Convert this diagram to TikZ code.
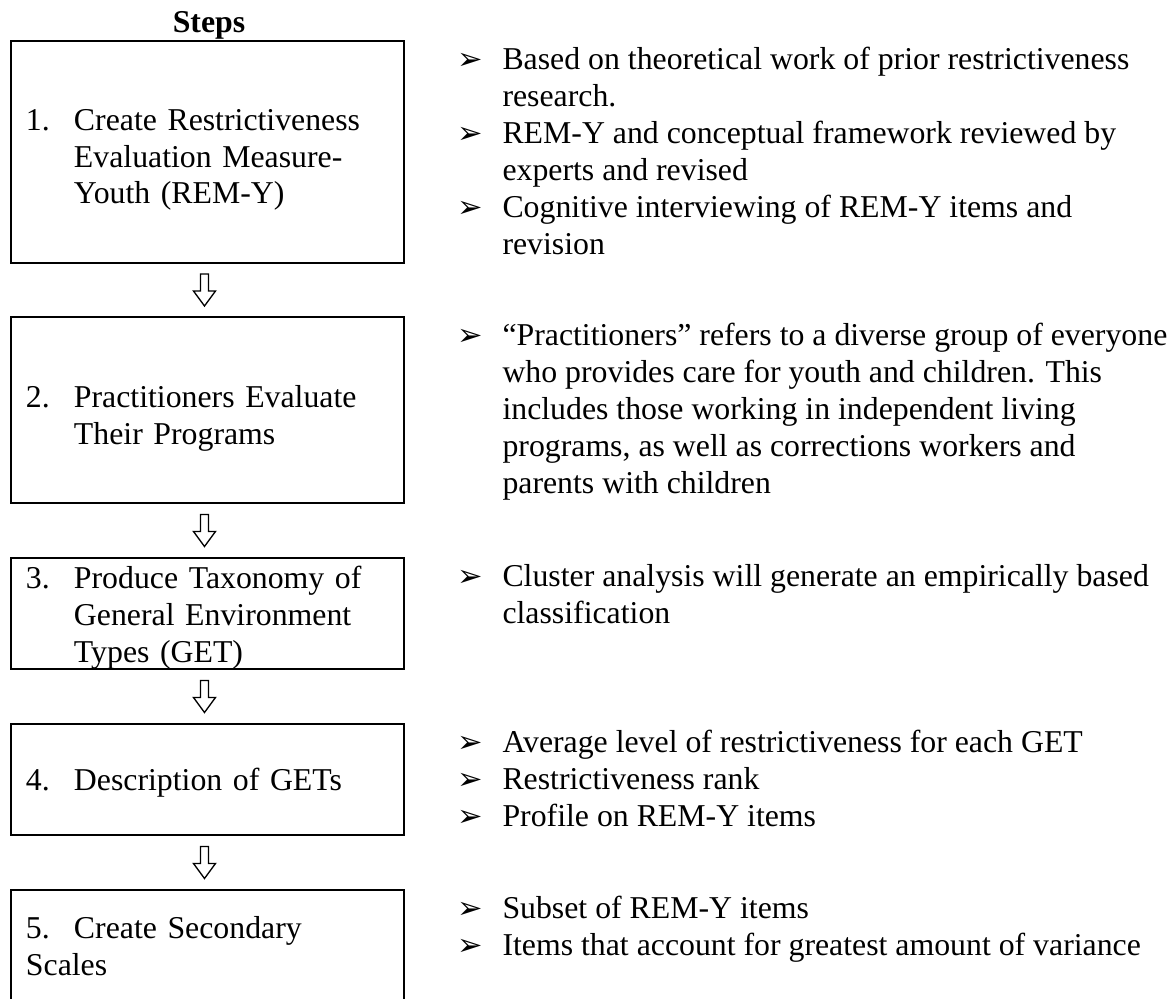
\documentclass[tikz,border=0pt]{standalone}
\usepackage{fontspec}
\setmainfont{Liberation Serif}
\newfontfamily\symfont{DejaVu Sans}
\usetikzlibrary{positioning, calc}
\newlength{\px}
\setlength{\px}{0.3774pt}
\newcommand{\numlab}[1]{\makebox[48\px][l]{#1}}
\newcommand{\stepind}{\hspace*{48\px}}
\newcommand{\bul}{\makebox[45\px][l]{\symfont\fontsize{11.5}{12}\selectfont ➢}}
\newcommand{\bulind}{\hspace*{45\px}}
\tikzset{
  stepbox/.style={draw, line width=0.75pt, anchor=north west, minimum width=393\px, text width=363\px, inner xsep=15\px, inner ysep=0pt, align=left},
  textdrop/.style={execute at end node={\par\vspace*{-#1}}},
  notes/.style={align=left, inner sep=0pt, execute at begin node=\strut},
  flowarrow/.style={draw, line width=0.5pt, fill=white}
}

\begin{document}
\begin{tikzpicture}[x=\px, y=-\px, font=\fontsize{12}{13.9}\selectfont]
  \useasboundingbox (0,0) rectangle (1174,999);

  % Column heading
  \node[anchor=base, font=\fontsize{12}{13.9}\selectfont\bfseries] (title) at (209,32) {Steps};

  % Step boxes
  \node[stepbox, textdrop=16\px, minimum height=222\px] (step1) at (10,40) {\numlab{1.}Create Restrictiveness\\\stepind Evaluation Measure-\\\stepind Youth (REM-Y)};
  \node[stepbox, textdrop=16\px, minimum height=186\px] (step2) at (10,316) {\numlab{2.}Practitioners Evaluate\\\stepind Their Programs};
  \node[stepbox, textdrop=8\px, minimum height=111\px] (step3) at (10,557) {\numlab{3.}Produce Taxonomy of\\\stepind General Environment\\\stepind Types (GET)};
  \node[stepbox, textdrop=10\px, minimum height=111\px] (step4) at (10,723) {\numlab{4.}Description of GETs};
  \node[stepbox, minimum height=112\px] (step5) at (10,889) {\numlab{5.}Create Secondary\\Scales};

  % Notes beside each step
  \node[notes, below right=7\px and 52\px of step1.north east] (note1) {\bul Based on theoretical work of prior restrictiveness\\\bulind research.\\\bul REM-Y and conceptual framework reviewed by\\\bulind experts and revised\\\bul Cognitive interviewing of REM-Y items and\\\bulind revision};
  \node[notes, below right=7\px and 52\px of step2.north east] (note2) {\bul “Practitioners” refers to a diverse group of everyone\\\bulind who provides care for youth and children. This\\\bulind includes those working in independent living\\\bulind programs, as well as corrections workers and\\\bulind parents with children};
  \node[notes, below right=7\px and 52\px of step3.north east] (note3) {\bul Cluster analysis will generate an empirically based\\\bulind classification};
  \node[notes, below right=7\px and 52\px of step4.north east] (note4) {\bul Average level of restrictiveness for each GET\\\bul Restrictiveness rank\\\bul Profile on REM-Y items};
  \node[notes, below right=7\px and 52\px of step5.north east] (note5) {\bul Subset of REM-Y items\\\bul Items that account for greatest amount of variance};

  % Hollow arrows between steps
  \coordinate (gap1) at ($(step1.south)!0.5!(step2.north)$);
  \coordinate (gap2) at ($(step2.south)!0.5!(step3.north)$);
  \coordinate (gap3) at ($(step3.south)!0.5!(step4.north)$);
  \coordinate (gap4) at ($(step4.south)!0.5!(step5.north)$);
  \draw[flowarrow] (gap1) ++(-7,-16) -- ++(0,17) -- ++(-7,0) -- ++(11,15) -- ++(11,-15) -- ++(-7,0) -- ++(0,-17) -- cycle;
  \draw[flowarrow] (gap2) ++(-7,-16) -- ++(0,17) -- ++(-7,0) -- ++(11,15) -- ++(11,-15) -- ++(-7,0) -- ++(0,-17) -- cycle;
  \draw[flowarrow] (gap3) ++(-7,-16) -- ++(0,17) -- ++(-7,0) -- ++(11,15) -- ++(11,-15) -- ++(-7,0) -- ++(0,-17) -- cycle;
  \draw[flowarrow] (gap4) ++(-7,-16) -- ++(0,17) -- ++(-7,0) -- ++(11,15) -- ++(11,-15) -- ++(-7,0) -- ++(0,-17) -- cycle;
\end{tikzpicture}
\end{document}
